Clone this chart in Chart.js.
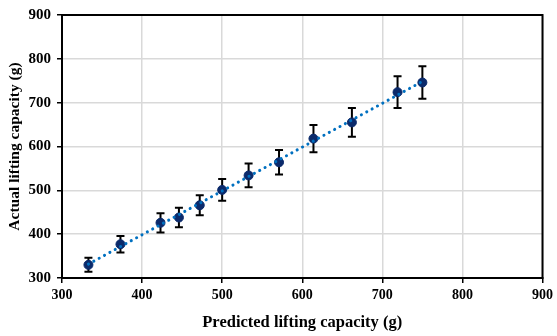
<!DOCTYPE html>
<html>
<head>
<meta charset="utf-8">
<script src="https://cdn.jsdelivr.net/npm/chart.js@4/dist/chart.umd.min.js"></script>
<style>
  html, body { margin: 0; padding: 0; background: #fff; }
  #wrap { width: 557px; height: 336px; }
</style>
</head>
<body>
<div id="wrap"><canvas id="myChart"></canvas></div>
<script>
// values
const predicted = [333, 373, 423, 446, 472, 500, 533, 571, 614, 662, 719, 750];
const actual = [330, 377, 426, 438, 466, 501, 534, 564, 618, 655, 724, 746];
const errors = [16, 19, 22, 22, 23, 25, 27, 28, 31, 33, 36, 37];
const axisTicks = [300, 400, 500, 600, 700, 800, 900];

// linear trendline (least squares), like the spreadsheet one
function fitLine(xs, ys) {
    const n = xs.length;
    const mx = xs.reduce((a, b) => a + b, 0) / n;
    const my = ys.reduce((a, b) => a + b, 0) / n;
    let sxy = 0, sxx = 0;
    for (let i = 0; i < n; i++) {
        sxy += (xs[i] - mx) * (ys[i] - my);
        sxx += (xs[i] - mx) * (xs[i] - mx);
    }
    const slope = sxy / sxx;
    return { slope: slope, icpt: my - slope * mx };
}
const fit = fitLine(predicted, actual);
const xMin = Math.min(...predicted), xMax = Math.max(...predicted);
const trend = [xMin, xMax].map(x => ({ x: x, y: fit.icpt + fit.slope * x }));
const points = predicted.map((x, i) => ({ x: x, y: actual[i] }));

const font = 'Liberation Serif, Times New Roman, serif';

// black error bars with caps
const errorBars = {
    id: 'errorBars',
    beforeDatasetsDraw(chart) {
        const ctx = chart.ctx, xs = chart.scales.x, ys = chart.scales.y;
        ctx.save();
        ctx.strokeStyle = '#000';
        ctx.lineWidth = 2;
        points.forEach((p, i) => {
            const px = xs.getPixelForValue(p.x);
            const top = ys.getPixelForValue(p.y + errors[i]);
            const bot = ys.getPixelForValue(p.y - errors[i]);
            ctx.beginPath();
            ctx.moveTo(px, top); ctx.lineTo(px, bot);
            ctx.moveTo(px - 4, top); ctx.lineTo(px + 4, top);
            ctx.moveTo(px - 4, bot); ctx.lineTo(px + 4, bot);
            ctx.stroke();
        });
        ctx.restore();
    }
};

// full black frame around the plot area
const frame = {
    id: 'frame',
    afterDraw(chart) {
        const a = chart.chartArea, ctx = chart.ctx;
        ctx.save();
        ctx.strokeStyle = '#000';
        ctx.lineWidth = 2;
        ctx.strokeRect(a.left, a.top, a.right - a.left, a.bottom - a.top);
        ctx.restore();
    }
};

new Chart(document.getElementById('myChart'), {
    type: 'scatter',
    data: {
        datasets: [{
            label: 'Trend',
            type: 'line',
            data: trend,
            borderColor: '#0070C0',
            borderWidth: 3,
            borderDash: [0.1, 6],
            borderCapStyle: 'round',
            pointRadius: 0,
            fill: false,
            order: 0
        }, {
            label: 'Measured',
            data: points,
            backgroundColor: '#0B2A6B',
            borderColor: '#0B2A6B',
            pointRadius: 4.5,
            pointHoverRadius: 4.5,
            order: 1
        }]
    },
    options: {
        responsive: true,
        maintainAspectRatio: false,
        animation: false,
        layout: { padding: { top: 11, right: 10, left: 0, bottom: 0 } },
        plugins: {
            legend: { display: false },
            tooltip: { enabled: false }
        },
        scales: {
            x: {
                type: 'linear',
                min: 300, max: 900,
                afterBuildTicks: s => { s.ticks = axisTicks.map(v => ({ value: v })); },
                afterFit: s => { s.height = 58; },
                grid: { color: '#d9d9d9', lineWidth: 1.5, tickColor: '#000', tickLength: 5 },
                border: { color: '#000', width: 2 },
                ticks: { color: '#000', font: { family: font, size: 14, weight: 'bold' }, padding: 4 },
                title: {
                    display: true, text: 'Predicted lifting capacity (g)', color: '#000',
                    font: { family: font, size: 16.5, weight: 'bold' }, padding: { top: 4, bottom: 3 }
                }
            },
            y: {
                min: 300, max: 900,
                afterBuildTicks: s => { s.ticks = axisTicks.map(v => ({ value: v })); },
                afterFit: s => { s.width = 62; },
                grid: { color: '#d9d9d9', lineWidth: 1.5, tickColor: '#000', tickLength: 5 },
                border: { color: '#000', width: 2 },
                ticks: { color: '#000', font: { family: font, size: 15, weight: 'bold' }, padding: 6 },
                title: {
                    display: true, text: 'Actual lifting capacity (g)', color: '#000',
                    font: { family: font, size: 15.5, weight: 'bold' }, padding: { top: 6, bottom: 1 }
                }
            }
        }
    },
    plugins: [errorBars, frame]
});
</script>
</body>
</html>
